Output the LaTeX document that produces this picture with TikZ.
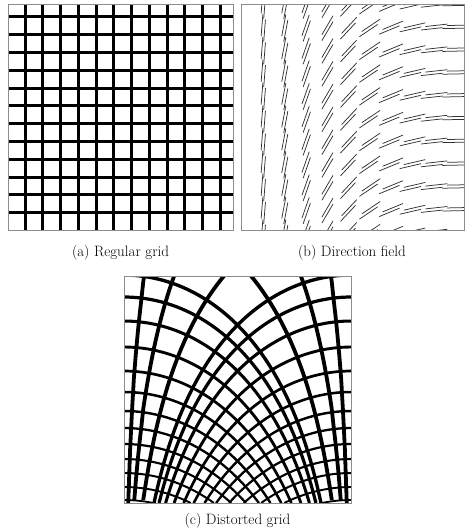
\documentclass[tikz,border=0pt]{standalone}
\usetikzlibrary{positioning}
\tikzset{every picture/.style={line width=0.75pt}}

\begin{document}
\begin{tikzpicture}[x=1pt, y=-1pt, every node/.style={font=\fontsize{15}{18}\selectfont},
    frame/.style={draw=black!45, line width=0.9pt},
    gridline/.style={line width=3pt},
    fieldline/.style={draw=black!80, line width=0.75pt}]
    \useasboundingbox (0,0) rectangle (464,531);

    % (a) regular grid
    \begin{scope}
        \clip (8,4) rectangle (233,230);
        \foreach \i in {0,...,11} {
            \draw[gridline] (25+17.75*\i, 4) -- (25+17.75*\i, 230);
            \draw[gridline] (8, 16.8+17.8*\i) -- (233, 16.8+17.8*\i);
        }
    \end{scope}
    \draw[frame] (8,4) rectangle (233,230);

    % (b) direction field, angle depends on x only
    \begin{scope}
        \clip (241,4) rectangle (464,230);
        \foreach \i in {0,...,9} {
            \pgfmathsetmacro\xc{262+21.8*\i}
            \pgfmathsetmacro\xf{(\xc-241)/223}
            \pgfmathsetmacro\ang{90*(1-\xf)+7*sin(360*\xf)}
            \foreach \j in {0,...,10} {
                \pgfmathsetmacro\yc{2.5+22.8*\j}
                \draw[fieldline] (\xc,\yc) ++(-\ang:11) -- ++(180-\ang:22);
                \draw[fieldline] (\xc,\yc) ++(180-\ang:5) ++(90-\ang:3) ++(-\ang:11) -- ++(180-\ang:22);
            }
        }
    \end{scope}
    \draw[frame] (241,4) rectangle (464,230);

    % (c) grid following the field
    \begin{scope}
        \clip (124,276) rectangle (351,503);
        \foreach \c in {3,16,30,44,59,75,92,111,132,156,182,206,228,292,383,510} {
            \pgfmathsetmacro\amin{asin(exp(-\c/144.5))}
            \pgfmathsetmacro\w{1.8+2*min(\c,290)/290}
            \draw[line width=\w pt] plot[domain=\amin:90, samples=120]
                ({124+2.5222*\x}, {503-\c-144.5*ln(sin(\x))});
            \draw[line width=\w pt] plot[domain=\amin:90, samples=120]
                ({351-2.5222*\x}, {503-\c-144.5*ln(sin(\x))});
        }
    \end{scope}
    \draw[frame] (124,276) rectangle (351,503);

    \node (capa) at (120.5,253) {(a) Regular grid};
    \node (capb) at (352,253) {(b) Direction field};
    \node (capc) at (237.5,521) {(c) Distorted grid};
\end{tikzpicture}
\end{document}
